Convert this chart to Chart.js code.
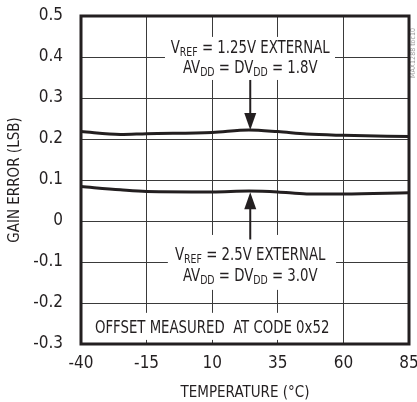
<!DOCTYPE html>
<html>
<head>
<meta charset="utf-8">
<script src="https://cdn.jsdelivr.net/npm/chart.js@4"></script>
<style>
  html, body { margin: 0; padding: 0; background: #fff; }
  #wrap { position: relative; width: 417px; height: 402px; }
</style>
</head>
<body>
<div id="wrap"><canvas id="chart"></canvas></div>
<script>
/* gain error vs temperature, two supply / reference settings */
var TEMPS = [-40, -25, -15, 10, 24, 35, 46, 60, 85];
var GAIN_1V8 = [0.218, 0.211, 0.213, 0.216, 0.222, 0.218, 0.212, 0.209, 0.206];
var GAIN_3V0 = [0.084, 0.076, 0.072, 0.071, 0.073, 0.071, 0.066, 0.066, 0.069];
var X_TICKS = [-40, -15, 10, 35, 60, 85];
var Y_TICKS = [-0.3, -0.2, -0.1, 0, 0.1, 0.2, 0.3, 0.4, 0.5];

var INK = '#231f20';
var FONT = "'Liberation Sans Narrow', 'DejaVu Sans Condensed', 'Liberation Sans', sans-serif";
var SQUEEZE = 0.87; // the plot's lettering is narrower than the installed fonts

function points(ys) {
  return TEMPS.map(function (t, i) { return { x: t, y: ys[i] }; });
}

// one line of text with subscript runs, centred (or left aligned) at x
function richText(ctx, parts, x, y, align) {
  var total = 0;
  parts.forEach(function (p) {
    ctx.font = (p.sub ? '12px ' : '17px ') + FONT;
    p.w = ctx.measureText(p.t).width;
    total += p.w;
  });
  var start = align === 'left' ? x : x - total * SQUEEZE / 2;
  ctx.save();
  ctx.translate(start, y);
  ctx.scale(SQUEEZE, 1);
  ctx.textBaseline = 'alphabetic';
  ctx.textAlign = 'left';
  var cx = 0;
  parts.forEach(function (p) {
    ctx.font = (p.sub ? '12px ' : '17px ') + FONT;
    ctx.fillText(p.t, cx, p.sub ? 3 : 0);
    cx += p.w;
  });
  ctx.restore();
}

function arrow(ctx, x, yFrom, yTip) {
  var dir = yTip > yFrom ? 1 : -1;
  ctx.strokeStyle = INK;
  ctx.lineWidth = 2;
  ctx.beginPath();
  ctx.moveTo(x, yFrom);
  ctx.lineTo(x, yTip - dir * 14);
  ctx.stroke();
  ctx.fillStyle = INK;
  ctx.beginPath();
  ctx.moveTo(x, yTip);
  ctx.lineTo(x - 6, yTip - dir * 17);
  ctx.lineTo(x + 6, yTip - dir * 17);
  ctx.closePath();
  ctx.fill();
}

var notes = {
  id: 'notes',
  beforeDatasetsDraw: function (chart) {
    var ctx = chart.ctx;
    var xs = chart.scales.x, ys = chart.scales.y;
    function X(t) { return xs.getPixelForValue(t); }
    function Y(v) { return ys.getPixelForValue(v); }
    ctx.save();
    // white boxes behind the labels break the grid
    ctx.fillStyle = '#fff';
    ctx.fillRect(X(-8), Y(0.449), X(56.8) - X(-8), Y(0.344) - Y(0.449));
    ctx.fillRect(X(-6.9), Y(-0.034), X(57.2) - X(-6.9), Y(-0.168) - Y(-0.034));
    ctx.fillRect(X(-36.6), Y(-0.224), X(57.2) - X(-36.6), Y(-0.29) - Y(-0.224));

    ctx.fillStyle = INK;
    var cx = X(24.5);
    richText(ctx, [{ t: 'V' }, { t: 'REF', sub: true }, { t: ' = 1.25V EXTERNAL' }], cx, Y(0.41));
    richText(ctx, [{ t: 'AV' }, { t: 'DD', sub: true }, { t: ' = DV' }, { t: 'DD', sub: true }, { t: ' = 1.8V' }], cx, Y(0.361));
    richText(ctx, [{ t: 'V' }, { t: 'REF', sub: true }, { t: ' = 2.5V EXTERNAL' }], cx, Y(-0.095));
    richText(ctx, [{ t: 'AV' }, { t: 'DD', sub: true }, { t: ' = DV' }, { t: 'DD', sub: true }, { t: ' = 3.0V' }], cx, Y(-0.146));
    richText(ctx, [{ t: 'OFFSET MEASURED  AT CODE 0x52' }], X(-34.7), Y(-0.273), 'left');

    arrow(ctx, cx, Y(0.344), Y(0.222));
    arrow(ctx, cx, Y(-0.045), Y(0.070));

    // small rotated part tag at the right edge
    ctx.translate(413, 53);
    ctx.rotate(-Math.PI / 2);
    ctx.font = '7px ' + FONT;
    ctx.fillStyle = '#999';
    ctx.textAlign = 'center';
    ctx.textBaseline = 'middle';
    ctx.fillText('MAX1288 toc10', 0, 0);
    ctx.restore();
  },
  afterDatasetsDraw: function (chart) {
    var a = chart.chartArea, ctx = chart.ctx;
    ctx.save();
    ctx.strokeStyle = INK;
    ctx.lineWidth = 3;
    ctx.strokeRect(a.left, a.top, a.right - a.left, a.bottom - a.top);
    ctx.restore();
  }
};

var lineStyle = {
  borderColor: INK,
  borderWidth: 3,
  pointRadius: 0,
  fill: false,
  tension: 0.4,
  cubicInterpolationMode: 'monotone'
};

new Chart(document.getElementById('chart'), {
  type: 'line',
  data: {
    datasets: [
      Object.assign({ label: '1.8V', data: points(GAIN_1V8) }, lineStyle),
      Object.assign({ label: '3.0V', data: points(GAIN_3V0) }, lineStyle)
    ]
  },
  options: {
    responsive: true,
    maintainAspectRatio: false,
    animation: false,
    devicePixelRatio: 1,
    layout: { padding: { top: 16, right: 8, left: 0, bottom: 0 } },
    plugins: { legend: { display: false }, tooltip: { enabled: false } },
    scales: {
      x: {
        type: 'linear',
        min: -40,
        max: 85,
        afterBuildTicks: function (s) { s.ticks = X_TICKS.map(function (v) { return { value: v }; }); },
        afterFit: function (s) { s.height = 58; s.paddingRight = 0; s.paddingLeft = 0; },
        ticks: { color: INK, font: { family: FONT, size: 17 }, padding: 9, maxRotation: 0 },
        grid: { color: '#3a3a3a', lineWidth: 1, drawTicks: false },
        border: { display: false },
        title: { display: true, text: 'TEMPERATURE (°C)', color: INK, font: { family: FONT, size: 15 }, padding: 0 }
      },
      y: {
        min: -0.3,
        max: 0.5,
        afterBuildTicks: function (s) { s.ticks = Y_TICKS.map(function (v) { return { value: v }; }); },
        afterFit: function (s) { s.width = 81; s.paddingTop = 0; s.paddingBottom = 0; },
        ticks: {
          color: INK,
          font: { family: FONT, size: 17 },
          padding: 18,
          callback: function (v) { return Math.abs(v) < 1e-9 ? '0' : v.toFixed(1); }
        },
        grid: { color: '#3a3a3a', lineWidth: 1, drawTicks: false },
        border: { display: false },
        title: { display: true, text: 'GAIN ERROR (LSB)', color: INK, font: { family: FONT, size: 15 }, padding: { top: 6, bottom: 0 } }
      }
    }
  },
  plugins: [notes]
});
</script>
</body>
</html>
